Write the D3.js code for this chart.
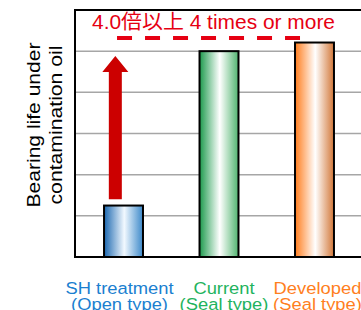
<!DOCTYPE html>
<html><head><meta charset="utf-8">
<script src="https://cdn.jsdelivr.net/npm/d3@7"></script>
<style>
html,body{margin:0;padding:0;background:#fff;}
text{font-family:"Liberation Sans",Arial,"Noto Sans CJK JP",sans-serif;}
</style></head>
<body><svg id="c" width="361" height="310"></svg>
<script>
const categories = ["SH treatment", "Current", "Developed"];
const subLabels = ["(Open type)", "(Seal type)", "(Seal type)"];
const values = [1.25, 5.0, 5.21];
const yTicks = [0, 1, 2, 3, 4, 5, 6];
const arrowRange = [1.4, 4.88];
const targetLevel = 5.32;
const annotation = "4.0倍以上 4 times or more";
const yLabelLines = ["Bearing life under", "contamination oil"];

const labelColors = ["#1b7fd0", "#1fb35e", "#ff7f1e"];
const grads = [
  ["#1c68b0", "#f2f9ff", "#3b88c9"],
  ["#1c9a4c", "#ffffff", "#50b46f"],
  ["#ff7c1c", "#ffffff", "#d27738"]
];

const svg = d3.select("#c");
const L = 75, T = 10, B = 257;
const x = d3.scaleBand().domain(categories).range([L, 363]).paddingInner(0.592).paddingOuter(0.304);
const y = d3.scaleLinear().domain([0, 6]).range([B, T]);

const defs = svg.append("defs");
grads.forEach((g, i) => {
  const lg = defs.append("linearGradient").attr("id", "g" + i).attr("x1", "0").attr("x2", "1").attr("y1", "0").attr("y2", "0");
  lg.append("stop").attr("offset", "0%").attr("stop-color", g[0]);
  lg.append("stop").attr("offset", "52%").attr("stop-color", g[1]);
  lg.append("stop").attr("offset", "100%").attr("stop-color", g[2]);
});

// gridlines
svg.append("g").selectAll("line").data(yTicks.filter(d => d > 0 && d < 6)).join("line")
  .attr("x1", L).attr("x2", 361).attr("y1", d => y(d)).attr("y2", d => y(d))
  .attr("stroke", "#a6a6a6").attr("stroke-width", 1.5);

// frame
svg.append("line").attr("x1", L).attr("x2", 361).attr("y1", y(6)).attr("y2", y(6)).attr("stroke", "#000").attr("stroke-width", 2);
svg.append("line").attr("x1", L).attr("x2", L).attr("y1", y(6) - 1).attr("y2", B + 1).attr("stroke", "#000").attr("stroke-width", 2);
svg.append("line").attr("x1", L).attr("x2", 361).attr("y1", B).attr("y2", B).attr("stroke", "#000").attr("stroke-width", 2);

// bars
svg.append("g").selectAll("rect").data(values).join("rect")
  .attr("x", (d, i) => x(categories[i]))
  .attr("y", d => y(d))
  .attr("width", x.bandwidth())
  .attr("height", d => B - y(d))
  .attr("fill", (d, i) => `url(#g${i})`)
  .attr("stroke", "#000").attr("stroke-width", 2);

// arrow
const ax = x(categories[0]) + x.bandwidth() * 0.29;
const y0 = y(arrowRange[0]), y1 = y(arrowRange[1]);
const headLen = 16, shaftW = 13, headW = 26;
svg.append("path")
  .attr("d", `M${ax - shaftW/2},${y0} L${ax - shaftW/2},${y1 + headLen} L${ax - headW/2},${y1 + headLen} L${ax},${y1} L${ax + headW/2},${y1 + headLen} L${ax + shaftW/2},${y1 + headLen} L${ax + shaftW/2},${y0} Z`)
  .attr("fill", "#cc0000");

// dashed target line
svg.append("line")
  .attr("x1", x(categories[0]) + 13).attr("x2", x(categories[2]) + 5)
  .attr("y1", y(targetLevel)).attr("y2", y(targetLevel))
  .attr("stroke", "#e60012").attr("stroke-width", 4).attr("stroke-dasharray", "15,13");

// annotation
svg.append("text").attr("x", 92).attr("y", y(5.55))
  .attr("fill", "#e60012").attr("font-size", 20)
  .attr("textLength", 243).attr("lengthAdjust", "spacingAndGlyphs")
  .text(annotation);

// y label
const yl = svg.append("text").attr("transform", `translate(40,125) rotate(-90)`)
  .attr("text-anchor", "middle").attr("font-size", 19).attr("fill", "#000");
yl.append("tspan").attr("x", 0).attr("dy", 0).attr("textLength", 165).attr("lengthAdjust", "spacingAndGlyphs").text(yLabelLines[0]);
yl.append("tspan").attr("x", 0).attr("dy", 22).attr("textLength", 159).attr("lengthAdjust", "spacingAndGlyphs").text(yLabelLines[1]);

// x labels
const xl = svg.append("g").selectAll("text").data(categories).join("text")
  .attr("text-anchor", "middle").attr("font-size", 17)
  .attr("fill", (d, i) => labelColors[i])
  .attr("transform", (d, i) => `translate(${x(d) + x.bandwidth()/2 + [-4, 5, 3][i]},294) scale(1.08,1)`);
xl.append("tspan").attr("x", 0).attr("y", 0).text(d => d);
xl.append("tspan").attr("x", 0).attr("y", 16).text((d, i) => subLabels[i]);
</script>
</body></html>
